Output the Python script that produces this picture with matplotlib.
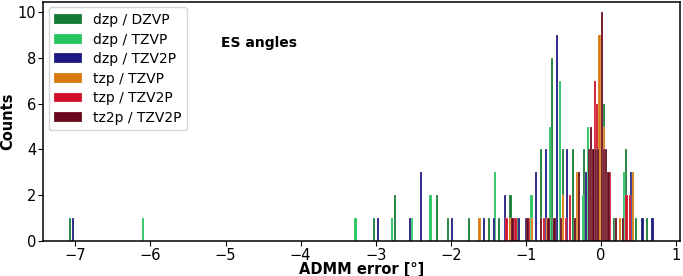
import numpy as np
import matplotlib
matplotlib.use('Agg')
import matplotlib.pyplot as plt

# ADMM error histograms, ES angles
labels = ['dzp / DZVP', 'dzp / TZVP', 'dzp / TZV2P', 'tzp / TZVP', 'tzp / TZV2P', 'tz2p / TZV2P']
colors = ['#157a35', '#26c45e', '#1c1a80', '#d8790c', '#d2102c', '#6b0a1e']

# bin centres [deg] and counts, one pair per series
dzp_dzvp_x = [-7.07, -3.02, -2.74, -2.18, -2.04, -1.76, -1.49, -1.36, -1.205, -1.10, -0.80,
              -0.65, -0.51, -0.37, -0.23, 0.04, 0.17, 0.20, 0.33, 0.47, 0.61]
dzp_dzvp_n = [1, 1, 2, 2, 1, 1, 1, 1, 2, 1, 4, 8, 4, 4, 4, 6, 1, 1, 4, 1, 1]

dzp_tzvp_x = [-6.10, -3.27, -2.78, -2.52, -2.27, -1.41, -0.925, -0.68, -0.55, -0.24, -0.17, 0.31]
dzp_tzvp_n = [1, 1, 1, 1, 2, 3, 2, 5, 7, 2, 5, 3]

dzp_tzv2p_x = [-7.035, -2.97, -2.54, -2.40, -1.98, -1.56, -1.43, -1.28, -1.16, -1.09, -1.00,
               -0.865, -0.73, -0.585, -0.45, -0.20, 0.40, 0.55, 0.685]
dzp_tzv2p_n = [1, 1, 1, 3, 1, 1, 1, 2, 1, 1, 1, 3, 4, 9, 4, 3, 3, 1, 1]

tzp_tzvp_x = [-1.62, -1.21, -0.92, -0.72, -0.51, -0.32, -0.02, 0.04, 0.25, 0.43]
tzp_tzvp_n = [1, 1, 1, 1, 2, 3, 9, 5, 1, 3]

tzp_tzv2p_x = [-1.26, -1.14, -0.955, -0.76, -0.63, -0.47, -0.41, -0.085, -0.05, 0.08, 0.12,
               0.34, 0.39]
tzp_tzv2p_n = [1, 1, 1, 1, 1, 1, 2, 7, 6, 3, 3, 2, 2]

tz2p_tzv2p_x = [-1.18, -0.98, -0.80, -0.70, -0.62, -0.53, -0.35, -0.29, -0.16, -0.13, -0.10,
                -0.07, -0.04, 0.01, 0.04, 0.07, 0.10, 0.20, 0.29]
tz2p_tzv2p_n = [1, 1, 1, 1, 1, 1, 1, 3, 4, 5, 4, 4, 4, 10, 4, 4, 3, 1, 1]

series_x = [dzp_dzvp_x, dzp_tzvp_x, dzp_tzv2p_x, tzp_tzvp_x, tzp_tzv2p_x, tz2p_tzv2p_x]
series_n = [dzp_dzvp_n, dzp_tzvp_n, dzp_tzv2p_n, tzp_tzvp_n, tzp_tzv2p_n, tz2p_tzv2p_n]

fig = plt.figure(figsize=(6.83, 2.76), dpi=100)
ax = fig.add_axes([0.063, 0.127, 0.9325, 0.866])

bin_w = 0.03
for x, n, c, lab in zip(series_x, series_n, colors, labels):
    ax.bar(x, n, width=bin_w, color=c, label=lab, linewidth=0.3, edgecolor='#ffffff80')

ax.set_xlim(-7.43, 1.05)
ax.set_ylim(0, 10.45)
ax.set_xticks(np.arange(-7, 2, 1))
ax.set_yticks(np.arange(0, 11, 2))
ax.tick_params(labelsize=10.5, pad=1.5)
for s in ax.spines.values():
    s.set_linewidth(1.1)
ax.set_xlabel('ADMM error [°]', fontsize=10.5, fontweight='bold')
ax.xaxis.set_label_coords(0.5, -0.088)
ax.set_ylabel('Counts', fontsize=10.5, fontweight='bold')
ax.yaxis.set_label_coords(-0.044, 0.5)
ax.text(0.28, 0.83, 'ES angles', transform=ax.transAxes, fontsize=10, fontweight='bold',
        va='center', ha='left')
ax.legend(loc='upper left', fontsize=10, handlelength=2.0, labelspacing=0.4,
          borderaxespad=0.4)

fig.savefig('out.png', dpi=100)
